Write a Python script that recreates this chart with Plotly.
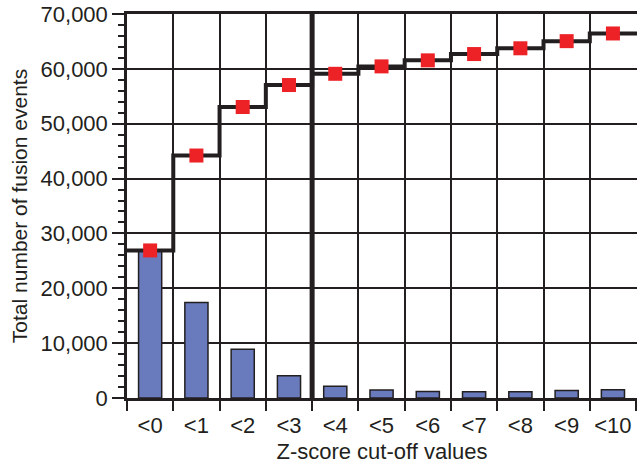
import plotly.graph_objects as go

# Z-score cut-off categories
categories = ["<0", "<1", "<2", "<3", "<4", "<5", "<6", "<7", "<8", "<9", "<10"]

# Fusion events per cut-off bin (bars)
events_per_bin = [26800, 17400, 8900, 4050, 2150, 1450, 1200, 1150, 1150, 1350, 1500]

# Running total of fusion events (step line + square markers)
cumulative_events = [26900, 44200, 53050, 57050, 59100, 60450, 61550, 62700, 63750, 65050, 66450]

INK = "#231f20"
RED = "#ec2227"
BLUE = "#6a7bbd"
FONT = "Liberation Sans, Arial, sans-serif"

x_pos = list(range(len(categories)))

fig = go.Figure()

fig.add_trace(go.Bar(
    x=x_pos,
    y=events_per_bin,
    width=0.5,
    marker=dict(color=BLUE, line=dict(color=INK, width=1.5)),
    showlegend=False,
))

# Step line runs from the left edge of the first bin to the right edge of the last
step_x = [x_pos[0] - 0.5] + x_pos + [x_pos[-1] + 0.6]
step_y = [cumulative_events[0]] + cumulative_events + [cumulative_events[-1]]
fig.add_trace(go.Scatter(
    x=step_x,
    y=step_y,
    mode="lines",
    line=dict(color=INK, width=4, shape="hvh"),
    showlegend=False,
))

fig.add_trace(go.Scatter(
    x=x_pos,
    y=cumulative_events,
    mode="markers",
    marker=dict(symbol="square", size=14, color=RED, line=dict(width=0)),
    showlegend=False,
))

# Heavy divider between the <3 and <4 cut-offs
fig.add_shape(
    type="line", xref="x", yref="paper",
    x0=3.5, x1=3.5, y0=0, y1=1,
    line=dict(color=INK, width=5),
    layer="above",
)

fig.update_layout(
    width=637,
    height=464,
    margin=dict(l=127, r=0, t=14, b=66),
    plot_bgcolor="white",
    paper_bgcolor="white",
    font=dict(family=FONT, size=22, color=INK),
    bargap=0.5,
)

fig.update_xaxes(
    range=[-0.5, 10.52],
    tickvals=x_pos,
    ticktext=categories,
    ticks="",
    ticklabelstandoff=6,
    showgrid=False,
    showline=True,
    linecolor=INK,
    linewidth=3,
    mirror=True,
    zeroline=False,
    automargin=False,
    tickfont=dict(size=22),
    minor=dict(
        tick0=-0.5, dtick=1,
        showgrid=True, gridcolor=INK, gridwidth=1.5,
        ticks="outside", ticklen=10, tickwidth=1.5, tickcolor=INK,
    ),
    title=dict(text="Z-score cut-off values", font=dict(size=22), standoff=12),
)

fig.update_yaxes(
    range=[0, 70000],
    dtick=10000,
    tickformat=",",
    ticks="outside",
    ticklen=12,
    tickwidth=1.5,
    tickcolor=INK,
    showgrid=True,
    gridcolor=INK,
    gridwidth=1.5,
    showline=True,
    linecolor=INK,
    linewidth=2.5,
    zeroline=False,
    automargin=False,
    tickfont=dict(size=22),
    minor=dict(dtick=2000, ticks="outside", ticklen=6, tickwidth=1.5,
               tickcolor=INK, showgrid=False),
    title=dict(text="Total number of fusion events", font=dict(size=21), standoff=8),
)

fig.write_html("out.html")
